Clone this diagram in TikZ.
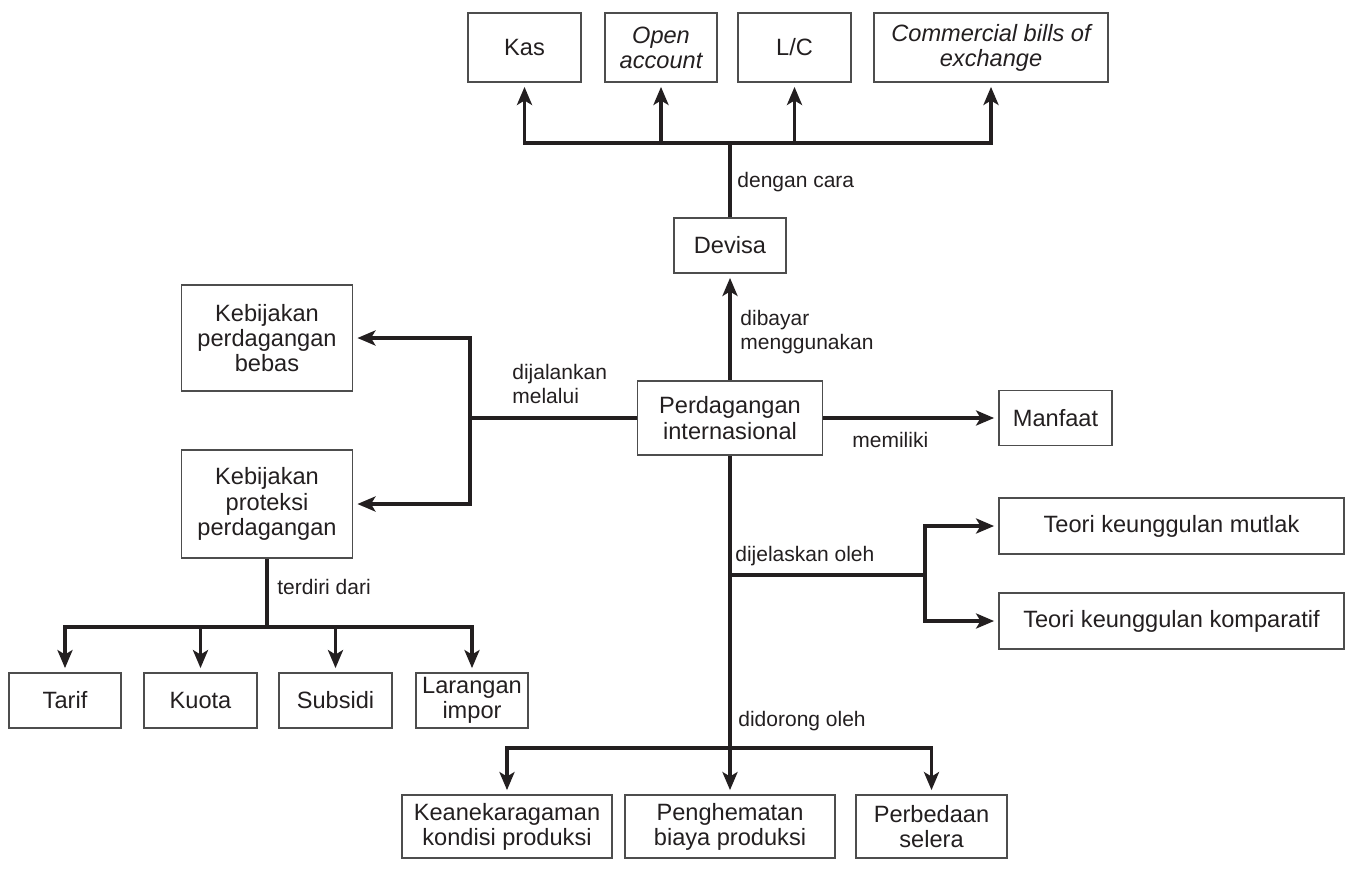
\documentclass[tikz,border=0pt]{standalone}
\usepackage{fontspec}
\setmainfont{Liberation Sans}
\usetikzlibrary{arrows.meta,positioning}
\definecolor{tinta}{HTML}{231F20}
\definecolor{bingkai}{HTML}{4D4D4D}
\tikzset{
  kotak/.style={draw=bingkai,line width=0.9pt,align=center,inner sep=1pt,text=tinta,
    font=\fontsize{11.8}{12.6}\selectfont},
  ukuran/.style 2 args={minimum width=#1,minimum height=#2},
  garis/.style={draw=tinta,line width=1.7pt},
  panah/.style={garis,-{Stealth[length=9pt,width=7.5pt,inset=2.2pt]},shorten >=2pt},
  ket/.style={anchor=west,align=left,text=tinta,inner sep=0pt,font=\fontsize{10.5}{11.6}\selectfont},
}
\begin{document}
\begin{tikzpicture}[x=0.5pt,y=-0.5pt]
  \useasboundingbox (0,0) rectangle (1348,868);
  % cara pembayaran
  \node[kotak,ukuran={56.5pt}{34.5pt}] (kas) at (524.5,47.5) {Kas};
  \node[kotak,ukuran={56pt}{34.5pt}] (open) at (661,47.5) {\itshape Open\\\itshape account};
  \node[kotak,ukuran={56.5pt}{34.5pt}] (lc) at (794.5,47.5) {L/C};
  \node[kotak,ukuran={117pt}{34.5pt}] (bills) at (991,47.5) {\itshape Commercial bills of\\\itshape exchange};
  \node[kotak,ukuran={56pt}{27.5pt}] (devisa) at (730,245.5) {Devisa};
  % pusat
  \node[kotak,ukuran={92.5pt}{37pt}] (dagang) at (730,418) {Perdagangan\\internasional};
  \node[kotak,ukuran={56.5pt}{27.5pt}] (manfaat) at (1055.5,418) {Manfaat};
  % teori
  \node[kotak,ukuran={172.5pt}{28pt}] (mutlak) at (1171.5,526) {Teori keunggulan mutlak};
  \node[kotak,ukuran={172.5pt}{28pt}] (komparatif) at (1171.5,621) {Teori keunggulan komparatif};
  % kebijakan
  \node[kotak,ukuran={85.5pt}{53pt}] (bebas) at (267,338) {Kebijakan\\perdagangan\\bebas};
  \node[kotak,ukuran={85.5pt}{54pt}] (proteksi) at (267,504) {Kebijakan\\proteksi\\perdagangan};
  \node[kotak,ukuran={56pt}{27.5pt}] (tarif) at (65,700.5) {Tarif};
  \node[kotak,ukuran={56.5pt}{27.5pt}] (kuota) at (200.5,700.5) {Kuota};
  \node[kotak,ukuran={56.5pt}{27.5pt}] (subsidi) at (335.5,700.5) {Subsidi};
  \node[kotak,ukuran={56pt}{27.5pt}] (larangan) at (472,700.5) {Larangan\\impor};
  % pendorong
  \node[kotak,ukuran={105pt}{31.5pt}] (ragam) at (507,826.5) {Keanekaragaman\\kondisi produksi};
  \node[kotak,ukuran={105pt}{31.5pt}] (hemat) at (730,826.5) {Penghematan\\biaya produksi};
  \node[kotak,ukuran={75.5pt}{31.5pt}] (selera) at (931.5,826.5) {Perbedaan\\selera};

  \coordinate (atas) at (730,143);
  \coordinate (kiri) at (470,418);
  \coordinate (cabang) at (730,575);
  \coordinate (kanan) at (925,575);
  \coordinate (bawahkiri) at (267,627);
  \coordinate (bawah) at (730,748);

  \draw[garis] (devisa) -- (atas);
  \foreach \t in {kas,open,lc,bills}
    \draw[panah] (atas) -| (\t);
  \draw[panah] (dagang) -- (devisa);
  \draw[panah] (dagang) -- (manfaat);
  \draw[garis] (dagang) -- (kiri);
  \draw[panah] (kiri) |- (bebas);
  \draw[panah] (kiri) |- (proteksi);
  \draw[garis] (cabang) -- (kanan);
  \draw[panah] (kanan) |- (mutlak);
  \draw[panah] (kanan) |- (komparatif);
  \draw[garis] (proteksi) -- (bawahkiri);
  \foreach \t in {tarif,kuota,subsidi,larangan}
    \draw[panah] (bawahkiri) -| (\t);
  \draw[panah] (dagang) -- (hemat);
  \draw[panah] (bawah) -| (ragam);
  \draw[panah] (bawah) -| (selera);

  \node[ket] (kcara) at (737,182) {dengan cara};
  \node[ket] (kbayar) at (740,332) {dibayar\\menggunakan};
  \node[ket] (kjalan) at (512,384) {dijalankan\\melalui};
  \node[ket] (kmilik) at (852,440) {memiliki};
  \node[ket] (kjelas) at (735,556) {dijelaskan oleh};
  \node[ket] (kdiri) at (277,587) {terdiri dari};
  \node[ket] (kdorong) at (738,721) {didorong oleh};
\end{tikzpicture}
\end{document}
